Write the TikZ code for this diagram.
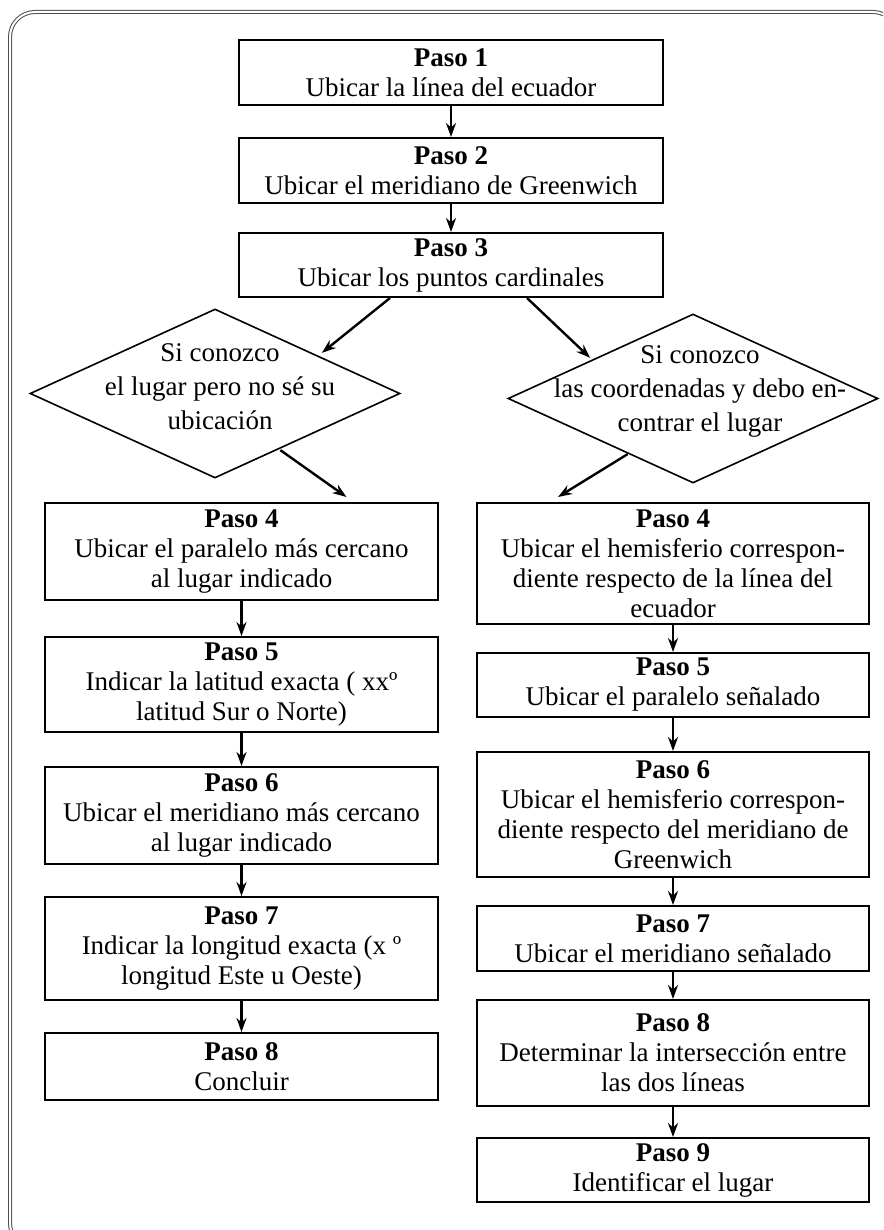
\documentclass[tikz,border=0pt]{standalone}
\usepackage{fontspec}
\setmainfont{Liberation Serif}
\usetikzlibrary{positioning,shapes.geometric,arrows.meta}

\begin{document}
\begin{tikzpicture}[x=0.5pt,y=-0.5pt,
  pasobox/.style={draw, line width=1pt, align=center, inner sep=1pt,
    font=\fontsize{13.5}{15}\selectfont},
  topbox/.style={pasobox, minimum width=212pt},
  leftbox/.style={pasobox, minimum width=196.5pt},
  rightbox/.style={pasobox, minimum width=196pt},
  choice/.style={draw, line width=0.8pt, diamond, inner sep=0pt,
    minimum width=185pt, minimum height=84.5pt},
  choicetext/.style={align=center, font=\fontsize{13.5}{17}\selectfont},
  arr/.style={line width=1.2pt, -{Stealth[length=7pt,width=5pt]}},
  frame/.style={draw=black!70, line width=0.5pt, double=white,
    double distance=1pt, rounded corners=12.5pt}]
\useasboundingbox (0,0) rectangle (883,1230);
\begin{scope}
\clip (0,0) rectangle (883,1230);
\draw[frame] (10,12) rectangle (898,1248);
\end{scope}

% common steps
\node[topbox, minimum height=32.5pt] (b1) at (451,72.5)
    {\textbf{Paso 1}\\Ubicar la línea del ecuador};
\node[topbox, minimum height=32.5pt] (b2) at (451,170.5)
    {\textbf{Paso 2}\\Ubicar el meridiano de Greenwich};
\node[topbox, minimum height=32pt] (b3) at (451,265)
    {\textbf{Paso 3}\\Ubicar los puntos cardinales};

% the two cases
\node[choice] (d1) at (215,393.5) {};
\node[choicetext] (d1t) at (220,386.5)
    {Si conozco\\el lugar pero no sé su\\ubicación};
\node[choice] (d2) at (693,398.5) {};
\node[choicetext] (d2t) at (700,391.5)
    {Si conozco\\las coordenadas y debo en-\\contrar el lugar};

% left column
\node[leftbox, minimum height=48.5pt] (l4) at (241.5,551.5)
    {\textbf{Paso 4}\\Ubicar el paralelo más cercano\\al lugar indicado};
\node[leftbox, minimum height=47.5pt] (l5) at (241.5,684.5)
    {\textbf{Paso 5}\\Indicar la latitud exacta ( xxº\\latitud Sur o Norte)};
\node[leftbox, minimum height=48.5pt] (l6) at (241.5,815.5)
    {\textbf{Paso 6}\\Ubicar el meridiano más cercano\\al lugar indicado};
\node[leftbox, minimum height=51.5pt] (l7) at (241.5,948.5)
    {\textbf{Paso 7}\\Indicar la longitud exacta (x º\\longitud Este u Oeste)};
\node[leftbox, minimum height=33.5pt] (l8) at (241.5,1066.5)
    {\textbf{Paso 8}\\Concluir};

% right column
\node[rightbox, minimum height=60.5pt] (r4) at (673,563.5)
    {\textbf{Paso 4}\\Ubicar el hemisferio correspon-\\diente respecto de la línea del\\ecuador};
\node[rightbox, minimum height=32pt] (r5) at (673,685)
    {\textbf{Paso 5}\\Ubicar el paralelo señalado};
\node[rightbox, minimum height=62.5pt] (r6) at (673,814.5)
    {\textbf{Paso 6}\\Ubicar el hemisferio correspon-\\diente respecto del meridiano de\\Greenwich};
\node[rightbox, minimum height=32.5pt] (r7) at (673,938.5)
    {\textbf{Paso 7}\\Ubicar el meridiano señalado};
\node[rightbox, minimum height=53pt] (r8) at (673,1053)
    {\textbf{Paso 8}\\Determinar la intersección entre\\las dos líneas};
\node[rightbox, minimum height=32pt] (r9) at (673,1170)
    {\textbf{Paso 9}\\Identificar el lugar};

% arrows
\draw[arr] (b1) -- (b2);
\draw[arr] (b2) -- (b3);
\draw[arr] ([xshift=-30.5pt]b3.south) -- ([shift={(14,2)}]d1.north east);
\draw[arr] ([xshift=38pt]b3.south) -- ([shift={(-10,2)}]d2.north west);
\draw[arr] ([shift={(-27.5,14)}]d1.south east) -- ([shift={(105,-5)}]l4.north);
\draw[arr] ([shift={(27.5,13)}]d2.south west) -- ([shift={(-115,-5)}]r4.north);
\draw[arr] (l4) -- (l5);
\draw[arr] (l5) -- (l6);
\draw[arr] (l6) -- (l7);
\draw[arr] (l7) -- (l8);
\draw[arr] (r4) -- (r5);
\draw[arr] (r5) -- (r6);
\draw[arr] (r6) -- (r7);
\draw[arr] (r7) -- (r8);
\draw[arr] (r8) -- (r9);
\end{tikzpicture}
\end{document}
